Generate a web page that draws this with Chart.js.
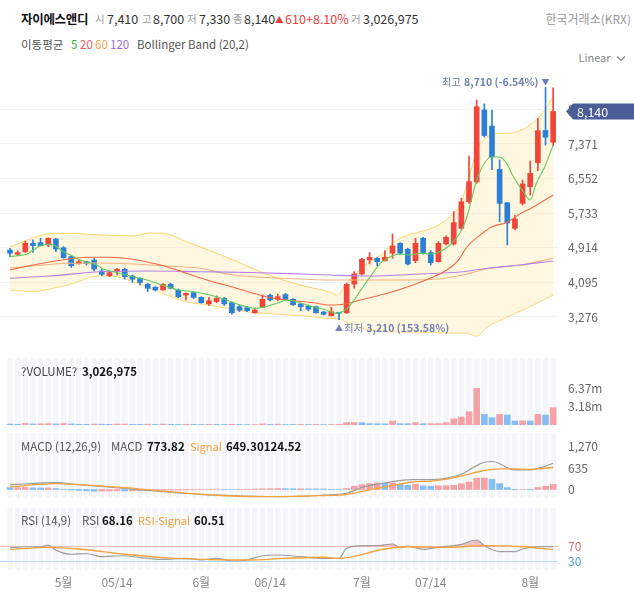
<!DOCTYPE html>
<html><head><meta charset="utf-8">
<script src="https://cdn.jsdelivr.net/npm/chart.js@4.4.1/dist/chart.umd.min.js"></script>
<style>
html,body{margin:0;padding:0;background:#fff;}
body{width:634px;height:592px;position:relative;overflow:hidden;font-family:"Noto Sans CJK KR","Noto Sans",sans-serif;}
.t{position:absolute;white-space:nowrap;line-height:16px;}
.g{color:#999;}
.b{font-weight:700;color:#111;}
canvas{position:absolute;left:0;}
</style></head><body>
<canvas id="cMain" width="634" height="280" style="top:65px"></canvas>
<canvas id="cVol" width="634" height="67" style="top:358px"></canvas>
<canvas id="cMacd" width="634" height="65" style="top:433px"></canvas>
<canvas id="cRsi" width="634" height="84" style="top:508px"></canvas>

<div class="t" style="left:21px;top:11px;font-size:12.5px;font-weight:700;color:#111;letter-spacing:-0.3px">자이에스앤디</div>
<div class="t g" style="left:95px;top:11px;font-size:10.5px">시</div>
<div class="t" style="left:107px;top:11px;font-size:12.5px;color:#333">7,410</div>
<div class="t g" style="left:142px;top:11px;font-size:10.5px">고</div>
<div class="t" style="left:153px;top:11px;font-size:12.5px;color:#333">8,700</div>
<div class="t g" style="left:187px;top:11px;font-size:10.5px">저</div>
<div class="t" style="left:199px;top:11px;font-size:12.5px;color:#333">7,330</div>
<div class="t g" style="left:233px;top:11px;font-size:10.5px">종</div>
<div class="t" style="left:244px;top:11px;font-size:12.5px;color:#333">8,140</div>
<div class="t" style="left:275px;top:11px;font-size:8.5px;color:#e8413b">▲</div>
<div class="t" style="left:285px;top:11px;font-size:12.5px;color:#e8413b">610</div>
<div class="t" style="left:306px;top:11px;font-size:12.5px;color:#e8413b">+8.10%</div>
<div class="t g" style="left:351px;top:11px;font-size:10.5px">거</div>
<div class="t" style="left:363px;top:11px;font-size:12.5px;color:#333">3,026,975</div>
<div class="t g" style="right:3px;top:11px;font-size:12px">한국거래소(KRX)</div>

<div class="t" style="left:21px;top:36px;font-size:11.5px;color:#555">이동평균</div>
<div class="t" style="left:71px;top:36px;font-size:11.5px;color:#3fb54a">5</div>
<div class="t" style="left:80px;top:36px;font-size:11.5px;color:#f05a5a">20</div>
<div class="t" style="left:95px;top:36px;font-size:11.5px;color:#f5a04a">60</div>
<div class="t" style="left:110px;top:36px;font-size:11.5px;color:#a06be0">120</div>
<div class="t" style="left:137px;top:36px;font-size:11.5px;color:#555">Bollinger Band (20,2)</div>
<div class="t" style="right:8px;top:49px;font-size:11px;color:#888">Linear <svg width="10" height="7" style="margin-left:3px"><polyline points="1,1.5 5,5.5 9,1.5" stroke="#888" stroke-width="1.1" fill="none"/></svg></div>

<div class="t" style="left:21px;top:363px;font-size:11.5px;color:#444">?VOLUME?</div>
<div class="t b" style="left:82px;top:363px;font-size:11.5px">3,026,975</div>

<div class="t" style="left:21px;top:438px;font-size:11.5px;color:#555">MACD (12,26,9)</div>
<div class="t" style="left:111px;top:438px;font-size:11.5px;color:#555">MACD</div>
<div class="t b" style="left:147px;top:438px;font-size:11.5px">773.82</div>
<div class="t" style="left:190px;top:438px;font-size:11px;color:#f5a03c">Signal</div>
<div class="t b" style="left:226px;top:438px;font-size:11.5px">649.30124.52</div>

<div class="t" style="left:21px;top:512px;font-size:11.5px;color:#555">RSI (14,9)</div>
<div class="t" style="left:82px;top:512px;font-size:11.5px;color:#555">RSI</div>
<div class="t b" style="left:102px;top:512px;font-size:11.5px">68.16</div>
<div class="t" style="left:138px;top:512px;font-size:11px;color:#f5a03c">RSI-Signal</div>
<div class="t b" style="left:194px;top:512px;font-size:11.5px">60.51</div>

<script>
// ---------------- DATA ----------------
const opens  = [4860,4760,4820,5020,5035,4980,5120,4915,4705,4535,4585,4625,4365,4255,4365,4405,4245,4190,4050,3980,3915,4050,3915,3795,3850,3740,3585,3640,3720,3615,3520,3495,3375,3505,3790,3695,3805,3695,3585,3535,3520,3395,3305,3375,3375,4055,4295,4625,4665,4610,4785,5020,4880,4610,5140,4800,4585,5005,5005,5375,6005,6470,8175,7795,6770,5980,5375,5965,6360,6930,7690,7410];
const highs  = [4900,4840,5075,5100,5140,5150,5140,4940,4725,4625,4600,4665,4410,4350,4430,4430,4270,4205,4075,3995,4065,4075,3940,3850,3865,3755,3740,3775,3740,3630,3560,3520,3460,3795,3820,3820,3835,3710,3600,3560,3535,3410,3505,3380,4080,4350,4665,4800,4690,4845,5240,5035,4900,5140,5160,4845,5060,5195,5770,6085,7085,8410,8320,8175,6990,5990,5680,6520,6970,7980,8710,8700];
const lows   = [4705,4725,4805,4805,4955,4940,4820,4665,4450,4525,4505,4365,4255,4230,4270,4175,4095,4035,3875,3890,3910,3940,3730,3680,3710,3600,3550,3615,3550,3345,3400,3400,3365,3495,3655,3660,3680,3550,3425,3420,3365,3325,3300,3210,3360,3955,4270,4530,4485,4600,4665,4760,4505,4560,4765,4505,4575,4980,4980,5350,5965,6440,7535,6760,5530,4980,5345,5925,6165,6740,7345,7330];
const closes = [4785,4800,5020,4965,4965,5140,4885,4680,4490,4585,4545,4410,4285,4325,4405,4230,4170,4095,3955,3915,4050,3955,3755,3835,3740,3615,3660,3720,3585,3375,3440,3425,3440,3695,3680,3755,3695,3565,3520,3460,3375,3340,3400,3365,4050,4295,4640,4690,4585,4690,4955,4785,4530,5020,4785,4560,5020,5160,5510,6005,6480,8250,7570,7065,5965,5500,5590,6425,6675,7685,7530,8140];
const volumes = [150000,120000,260000,180000,210000,230000,200000,240000,180000,130000,120000,150000,140000,120000,160000,170000,120000,100000,140000,110000,150000,120000,110000,130000,100000,90000,120000,100000,90000,130000,100000,80000,90000,200000,120000,140000,100000,90000,110000,90000,100000,80000,90000,120000,410000,420000,400000,230000,220000,210000,700000,230000,220000,410000,230000,240000,250000,410000,1100000,1400000,2320000,6400000,1860000,1280000,1870000,1740000,700000,720000,700000,1860000,1740000,3026975];
const macdHist = [50,55,62,48,44,46,28,8,-14,-30,-40,-52,-50,-46,-40,-44,-40,-36,-32,-27,-22,-20,-18,-12,-8,-5,2,8,5,2,6,10,14,22,25,28,26,22,24,20,18,14,6,3,30,96,145,175,192,188,196,155,125,155,106,96,106,110,125,173,221,337,340,298,173,58,-8,-4,-7,58,96,150];

// indicator lines: [candle index, value]
const ma5 = [[0,4703],[0.9,4727],[2.2,4760],[3.5,4916],[4.8,4996],[5.9,4963],[7,4821],[8.1,4727],[9.2,4625],[10.2,4571],[11.3,4507],[12.2,4412],[13.5,4348],[14.8,4286],[16.1,4229],[17.9,4151],[19.6,4050],[22,3915],[24,3874],[26.1,3796],[28.3,3678],[30.1,3560],[32,3481],[33.1,3505],[34.9,3600],[36.2,3678],[37.5,3638],[39.2,3536],[41,3458],[42.7,3363],[43.8,3440],[44.4,3540],[45.3,3760],[45.8,3900],[47.1,4229],[48.4,4546],[49.7,4703],[51,4767],[52.3,4743],[53.6,4783],[54.9,4767],[56.2,4821],[57.5,4980],[58.8,5257],[59.7,5630],[61,6519],[62.3,6992],[63.2,7070],[64.1,7056],[64.9,6914],[65.8,6597],[67.1,6242],[68,6045],[68.8,6440],[69.9,6833],[71,7347]];
const ma20 = [[0,4388],[3,4507],[7.5,4641],[10.1,4689],[13.1,4689],[16.1,4641],[18.3,4561],[20.5,4466],[23.1,4310],[26.5,4111],[29.2,3979],[31.8,3837],[34.4,3718],[37,3662],[39.6,3614],[41.8,3560],[43.8,3583],[45.8,3678],[49.3,3837],[52.7,4033],[54.9,4192],[57.1,4388],[58.5,4600],[59.8,4950],[61,5150],[63,5410],[65,5520],[66.6,5710],[68.4,5880],[71,6163]];
const ma60 = [[0,4436],[3,4483],[7.5,4547],[11.8,4554],[16.1,4530],[20.5,4483],[24.8,4428],[29.2,4270],[35,4200],[41.8,4151],[46,4150],[54.9,4165],[59.2,4270],[62.7,4428],[66.7,4507],[71,4665]];
const ma120 = [[0,4192],[5.2,4246],[11.8,4348],[18.3,4365],[24.8,4348],[31.4,4329],[38,4293],[41.8,4270],[47.1,4246],[53.6,4293],[58.8,4341],[62.7,4436],[66.7,4507],[71,4601]];
const bbUpper = [[0,4933],[1.3,5027],[3,5146],[4.8,5240],[7.5,5257],[11.8,5217],[16.1,5193],[18.3,5264],[20.5,5240],[23.1,5058],[26.5,4821],[29.2,4625],[32.7,4348],[35.7,4151],[38.8,3993],[41.8,3867],[42.7,3796],[44,4080],[45.4,4348],[47.1,4585],[48.8,4791],[50.1,5027],[51.4,5177],[53.6,5295],[55.8,5430],[57.5,5650],[58.8,5927],[60.1,6637],[61,7229],[62.4,7536],[63.1,7607],[65.4,7631],[67.6,7773],[69.3,8033],[71,8483]];
const bbLower = [[0,3915],[3,3875],[5.6,3955],[7.5,4033],[9.5,4151],[11.4,4246],[13.1,4246],[16.1,4111],[18.3,3955],[20.5,3796],[23.1,3638],[25.8,3560],[29.2,3458],[31.8,3378],[33.6,3363],[36.2,3323],[38.8,3299],[41.4,3245],[43,3230],[44,3150],[45.8,3015],[48.4,2944],[51,2921],[53.6,2921],[56.9,2897],[59.5,2897],[61,2826],[62.4,3039],[65,3276],[67.6,3489],[71,3796]];
const macdLine = [[0,144],[6,202],[9,144],[15,29],[20,-67],[25,-144],[31,-192],[36,-212],[41,-164],[44,-110],[46.2,77],[48.4,173],[50.5,250],[52.7,289],[55,289],[57.1,337],[59.3,481],[60.6,654],[61.9,798],[63.2,827],[64.5,702],[65.8,577],[68,577],[69.7,673],[71,773.82]];
const macdSignal = [[0,77],[6,173],[9,144],[15,58],[20,-48],[25,-144],[30,-200],[34,-212],[41,-178],[44,-150],[46.2,-48],[48.4,48],[50.5,144],[52.7,221],[55,250],[57.1,308],[59.3,414],[61.5,539],[64,606],[66,606],[68,596],[71,649.30]];
const rsiLine = [[0,65.6],[2,68],[4,68],[5,72.7],[6,59],[8,48],[10,50],[12,41.6],[15,44],[17,39],[20,34.4],[23,37],[25,32.7],[27,37],[29,30],[31,32.7],[33,44],[35,46],[38,41.6],[41,37],[43,37],[44,63.8],[46,71],[48,71],[50,75.3],[51,65.6],[52,70],[54,61],[56,66.4],[59,74.4],[61,86],[62,71],[64,55],[66,55],[67,62],[69,68],[71,68.16]];
const rsiSignal = [[0,61],[5,66.4],[9,62],[15,48],[20,39],[25,34.4],[31,32.7],[36,37],[41,40],[43,37],[49,62],[52,68],[57,66.4],[62,71],[67,68],[71,60.51]];

const priceTicks = [3276,4095,4914,5733,6552,7371,8190];
const volTicks = [3180000,6370000];
const macdTicks = [0,635,1270];
const rsiLevels = [70,30];
const xTickIdx = [7,14,25,34,46,55,68];
const xTickLabels = ['5월','05/14','6월','06/14','7월','07/14','8월'];

// ---------------- RENDER ----------------
const FONT = '"Noto Sans CJK KR","Noto Sans",sans-serif';
Chart.defaults.font.family = FONT;
Chart.defaults.animation = false;
const N = closes.length;
const X_MIN = -1.307, X_MAX = N - 1 + 0.63;
const RED = '#f0453a', BLUE = '#2b7fd6', PINK = '#f4a2a5', LBLUE = '#85bdf4';
const pts = a => a.map(([x, y]) => ({x, y}));
const fmtNum = v => Number(v).toLocaleString('en-US');

const stripes = {
  id: 'stripes',
  beforeDraw(chart) {
    const {ctx, chartArea: a, scales: {x}} = chart;
    ctx.save(); ctx.fillStyle = '#f4f6fa';
    for (let i = 0; i < N; i++) {
      const px = x.getPixelForValue(i);
      ctx.fillRect(px - 2.75, a.top, 5.5, a.bottom - a.top);
    }
    ctx.restore();
  }
};

function xAxis(show) {
  const s = {type: 'linear', min: X_MIN, max: X_MAX, offset: false, display: show,
    grid: {display: false, drawTicks: false}, border: {display: false}};
  if (show) {
    s.afterFit = sc => { sc.height = 22; sc.paddingLeft = 0; sc.paddingRight = 0; };
    s.afterBuildTicks = sc => { sc.ticks = xTickIdx.map(v => ({value: v})); };
    s.ticks = {padding: 5, color: '#888', font: {size: 12}, autoSkip: false, maxRotation: 0,
      callback: (v, i) => xTickLabels[i]};
  }
  return s;
}
function yAxis(min, max, ticks, fmt, grid, color) {
  return {type: 'linear', position: 'right', min, max,
    afterFit: sc => { sc.width = 76; sc.paddingTop = 0; sc.paddingBottom = 0; },
    afterBuildTicks: sc => { sc.ticks = ticks.map(v => ({value: v})); },
    border: {display: false},
    grid: grid ? {color: '#f1f1f1', drawTicks: false} : {display: false, drawTicks: false},
    ticks: {padding: 10, color: color || '#666', font: {size: 12}, callback: fmt}};
}
const base = {responsive: false, devicePixelRatio: 1, animation: false,
  layout: {padding: 0}, plugins: {legend: {display: false}, tooltip: {enabled: false}}};
const line = (data, color, w, order, extra) => Object.assign({type: 'line', data: pts(data), borderColor: color,
  borderWidth: w, pointRadius: 0, cubicInterpolationMode: 'monotone', fill: false, order}, extra || {});

// ---- main price chart ----
const candleColor = opens.map((o, i) => closes[i] >= o ? RED : BLUE);
const mainDeco = {
  id: 'mainDeco',
  afterDraw(chart) {
    const {ctx, chartArea: a, scales: {x, y}} = chart;
    const lastC = closes[N - 1];
    let hi = 0, lo = 0;
    for (let i = 1; i < N; i++) { if (highs[i] > highs[hi]) hi = i; if (lows[i] < lows[lo]) lo = i; }
    const pct = v => ((lastC - v) / v * 100).toFixed(2);
    const col = '#6f81b5';
    ctx.save();
    ctx.textBaseline = 'middle'; ctx.fillStyle = col;
    // high
    const hx = x.getPixelForValue(hi), hy = y.getPixelForValue(highs[hi]) - 5.5;
    ctx.font = '8px ' + FONT; ctx.textAlign = 'center'; ctx.fillText('▼', hx, hy);
    ctx.textAlign = 'right';
    ctx.font = '700 10.5px ' + FONT;
    const hTxt = fmtNum(highs[hi]) + ' (' + pct(highs[hi]) + '%)';
    ctx.fillText(hTxt, hx - 7, hy);
    const hw = ctx.measureText(hTxt).width;
    ctx.font = '10.5px ' + FONT; ctx.fillText('최고', hx - 10 - hw, hy);
    // low
    const lx = x.getPixelForValue(lo), ly = y.getPixelForValue(lows[lo]) + 8.5;
    ctx.font = '8px ' + FONT; ctx.textAlign = 'center'; ctx.fillText('▲', lx, ly);
    ctx.textAlign = 'left';
    ctx.font = '10.5px ' + FONT; ctx.fillText('최저', lx + 5, ly);
    const lw = ctx.measureText('최저').width;
    ctx.font = '700 10.5px ' + FONT;
    ctx.fillText(fmtNum(lows[lo]) + ' (' + pct(lows[lo]) + '%)', lx + 8 + lw, ly);
    // price tag
    const py = y.getPixelForValue(lastC);
    ctx.fillStyle = '#4b5c96';
    ctx.beginPath();
    ctx.moveTo(a.right + 8, py); ctx.lineTo(a.right + 15, py - 8);
    ctx.lineTo(chart.width, py - 8); ctx.lineTo(chart.width, py + 8);
    ctx.lineTo(a.right + 15, py + 8); ctx.closePath(); ctx.fill();
    ctx.fillStyle = '#fff'; ctx.font = '12.5px ' + FONT; ctx.textAlign = 'left';
    ctx.fillText(fmtNum(lastC), a.right + 19, py + 0.5);
    ctx.restore();
  }
};
new Chart(document.getElementById('cMain'), {
  type: 'bar',
  data: {datasets: [
    line(bbUpper, '#fcd46a', 1, 10, {fill: '+1', backgroundColor: 'rgba(255,236,175,0.4)'}),
    line(bbLower, '#fcd46a', 1, 10),
    {type: 'bar', data: opens.map((o, i) => ({x: i, y: [lows[i], highs[i]]})), backgroundColor: candleColor,
      barThickness: 1, grouped: false, order: 6},
    {type: 'bar', data: opens.map((o, i) => ({x: i, y: [o, closes[i]]})), backgroundColor: candleColor,
      barThickness: 5, minBarLength: 1, grouped: false, order: 5},
    line(ma120, '#b580e8', 1.1, 3),
    line(ma60, '#f8b27e', 1.1, 3),
    line(ma20, '#f36a46', 1.1, 2),
    line(ma5, '#62cc62', 1.1, 1)
  ]},
  options: Object.assign({}, base, {scales: {
    x: xAxis(false),
    y: yAxis(2613, 9240, priceTicks, v => fmtNum(v), true)
  }}),
  plugins: [mainDeco]
});

// ---- volume ----
const volColor = volumes.map((v, i) => i > 0 && v >= volumes[i - 1] ? PINK : LBLUE);
new Chart(document.getElementById('cVol'), {
  type: 'bar',
  data: {datasets: [{data: volumes.map((v, i) => ({x: i, y: v})), backgroundColor: volColor, barThickness: 6}]},
  options: Object.assign({}, base, {scales: {
    x: xAxis(false),
    y: yAxis(0, 11690000, volTicks, v => (v / 1e6).toFixed(2) + 'm', false)
  }}),
  plugins: [stripes]
});

// ---- MACD ----
const histColor = macdHist.map((v, i) => i > 0 && v >= macdHist[i - 1] ? PINK : LBLUE);
new Chart(document.getElementById('cMacd'), {
  type: 'bar',
  data: {datasets: [
    {type: 'bar', data: macdHist.map((v, i) => ({x: i, y: v})), backgroundColor: histColor, barThickness: 6, order: 3},
    line(macdLine, '#9d9d9d', 1.2, 2),
    line(macdSignal, '#f6a23e', 1.3, 1)
  ]},
  options: Object.assign({}, base, {scales: {
    x: xAxis(false),
    y: yAxis(-251, 1668, macdTicks, v => fmtNum(v), false)
  }}),
  plugins: [stripes]
});

// ---- RSI ----
const rsiRef = {
  id: 'rsiRef',
  beforeDatasetsDraw(chart) {
    const {ctx, chartArea: a, scales: {y}} = chart;
    const cols = ['#f6b8b8', '#b8d5f6'];
    ctx.save(); ctx.lineWidth = 1;
    rsiLevels.forEach((lv, k) => {
      const py = Math.round(y.getPixelForValue(lv)) + 0.5;
      ctx.strokeStyle = cols[k]; ctx.beginPath(); ctx.moveTo(a.left, py); ctx.lineTo(a.right, py); ctx.stroke();
    });
    ctx.restore();
  }
};
new Chart(document.getElementById('cRsi'), {
  type: 'line',
  data: {datasets: [
    line(rsiLine, '#a0a0a0', 1.2, 2, {fill: {target: {value: 70}, above: 'rgba(242,140,140,0.5)', below: 'rgba(0,0,0,0)'}}),
    line(rsiSignal, '#f6a23e', 1.3, 1)
  ]},
  options: Object.assign({}, base, {scales: {
    x: xAxis(true),
    y: Object.assign(yAxis(6, 171.3, rsiLevels, v => String(v), false),
      {ticks: {padding: 10, font: {size: 12}, callback: v => String(v),
        color: c => c.tick && c.tick.value === 70 ? '#e46b6b' : '#4d9be6'}})
  }}),
  plugins: [stripes, rsiRef]
});
</script>
</body></html>
